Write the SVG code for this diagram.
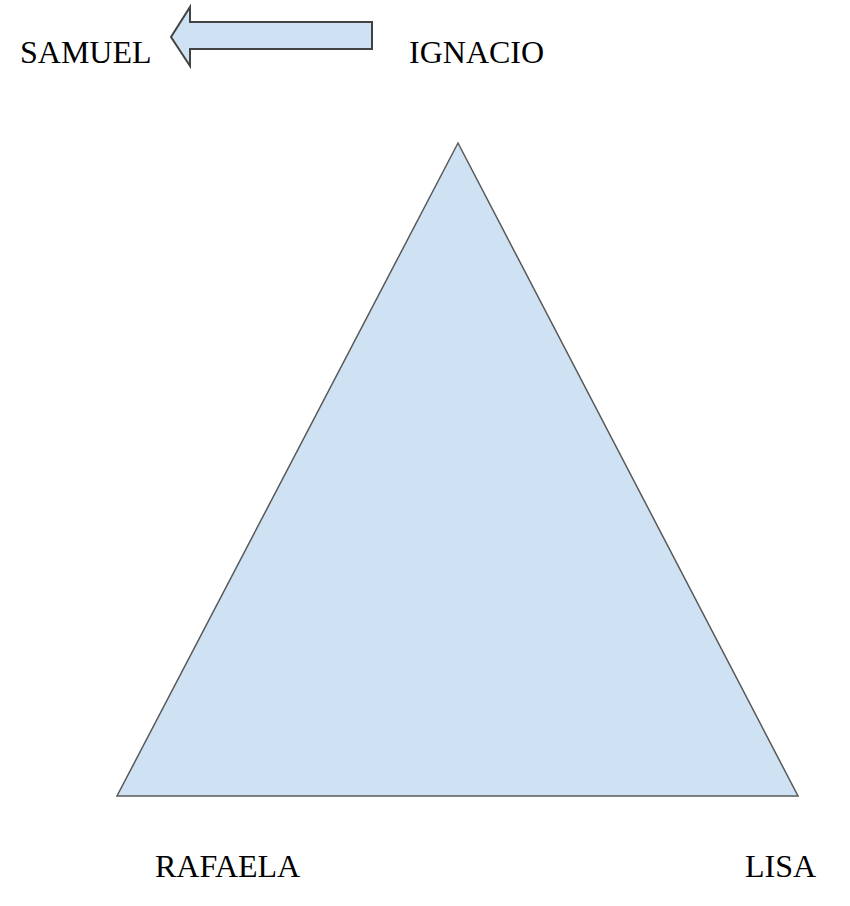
<svg xmlns="http://www.w3.org/2000/svg" width="850" height="906" viewBox="0 0 850 906">
<style>
.lbl{font-family:"Liberation Serif","Times New Roman",serif;font-size:32px;fill:#000}
.shape{fill:#cfe2f3;stroke:#595959;stroke-width:1.5;stroke-linejoin:miter}
.arrow{fill:#cfe2f3;stroke:#434343;stroke-width:2;stroke-linejoin:miter}
</style>
<rect width="850" height="906" fill="#fff"/>
<g id="samuel"><text class="lbl" x="20" y="63">SAMUEL</text></g>
<g id="ignacio"><text class="lbl" x="409" y="63">IGNACIO</text></g>
<g id="rafaela"><text class="lbl" x="155" y="877">RAFAELA</text></g>
<g id="lisa"><text class="lbl" x="745" y="877">LISA</text></g>
<g id="triangle"><polygon class="shape" points="458,143 798,796 117,796"/></g>
<g id="connectors">
<polygon class="arrow" points="171,37 190,7 190,22 372,22 372,49 190,49 190,66"/>
</g>
</svg>
